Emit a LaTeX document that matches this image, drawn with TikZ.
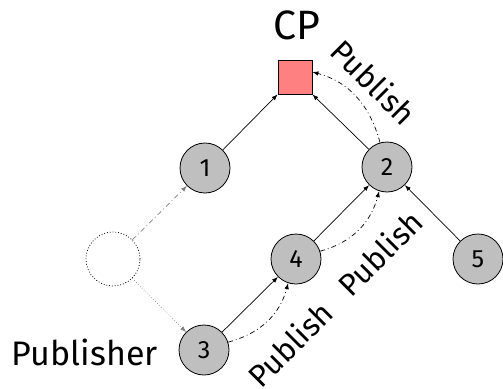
\documentclass[tikz,border=0pt]{standalone}
\usepackage{fontspec}
\setmainfont{Fira Sans}
\usetikzlibrary{arrows.meta}
\begin{document}
\begin{tikzpicture}[x=1pt,y=-1pt,
  peer/.style={circle,draw,fill=black!25,line width=0.8pt,minimum size=50pt,inner sep=0pt,font=\fontsize{25}{25}\selectfont},
  ghost/.style={circle,draw,dotted,line width=0.8pt,minimum size=54pt,inner sep=0pt},
  cpbox/.style={rectangle,draw,fill=red!50,line width=0.8pt,minimum size=34pt,inner sep=0pt},
  link/.style={line width=0.7pt,-{Latex[length=6pt,width=4.5pt]}},
  pub/.style={line width=0.7pt,dash pattern=on 5pt off 3pt on 0.8pt off 3pt,-{Latex[length=6pt,width=4.5pt]}},
  faint/.style={line width=0.7pt,draw=black!50,-{Latex[length=6pt,width=4.5pt,fill=black!50]}},
  tag/.style={font=\fontsize{31}{31}\selectfont,inner sep=0pt}]
\useasboundingbox (0,0) rectangle (503,388);

% peers of the overlay
\node[cpbox] (cp) at (295,77) {};
\node[font=\fontsize{41}{41}\selectfont,inner sep=0pt,anchor=base] (cpl) at (297,39) {CP};
\node[peer] (n1) at (205,168) {1};
\node[peer] (n2) at (387,167) {2};
\node[peer] (n4) at (296,259) {4};
\node[peer] (n5) at (478,259) {5};
\node[peer] (n3) at (204,350) {3};
\node[ghost] (g) at (113,259) {};
\node[font=\fontsize{34}{34}\selectfont,inner sep=0pt,anchor=base east] (publ) at (158,365) {Publisher};

% tree links
\draw[link] (n1) -- (cp.south west);
\draw[link] (n2) -- (cp.south east);
\draw[link] (n4) -- (n2);
\draw[link] (n3) -- (n4);
\draw[link] (n5) -- (n2);

% joining peer
\draw[faint,dash pattern=on 5pt off 3pt on 0.8pt off 3pt] (g) -- (n1);
\draw[faint,dotted] (g) -- (n3);

% publish messages
\draw[pub] (n2.106) to[out=105,in=-15] ([yshift=5pt]cp.east);
\draw[pub] (n4.18) to[out=15,in=-105] (n2.-108);
\draw[pub] (n3.18) to[out=15,in=-105] (n4.-108);

\node[tag,rotate=-45] (p1) at (374,82) {Publish};
\node[tag,rotate=45] (p2) at (380,253) {Publish};
\node[tag,rotate=45] (p3) at (290,344) {Publish};
\end{tikzpicture}
\end{document}
